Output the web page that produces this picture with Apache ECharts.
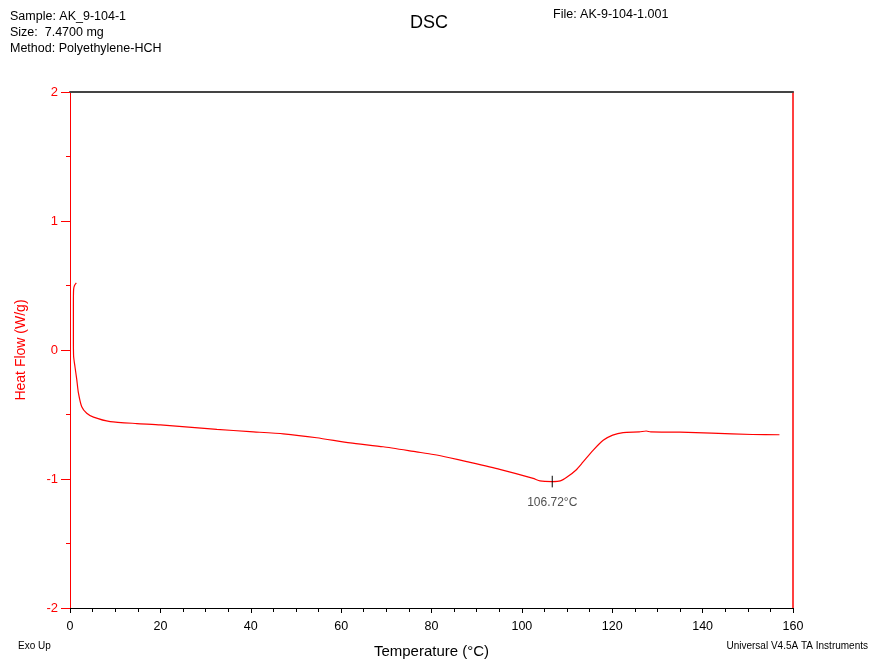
<!DOCTYPE html>
<html><head><meta charset="utf-8">
<script src="https://cdn.jsdelivr.net/npm/echarts@6/dist/echarts.min.js"></script>
<style>html,body{margin:0;padding:0;background:#fff}#c{width:875px;height:659px}</style>
</head><body><div id="c"></div>
<script>
// Temperature (°C)
const temps = [1.4, 1.0, 0.8, 0.75, 0.75, 0.8, 1.1, 1.5, 1.85, 2.6, 3.7, 5.2, 8.9, 14.8, 20, 32.5, 39.8, 47.2, 54.6, 62, 69.3, 76.7, 80.4, 84, 87.8, 95.1, 102.5, 104, 106.72, 108.5, 110, 112, 113.5, 115.7, 118, 120.1, 122.4, 126, 127.5, 128.5, 135, 142, 151, 157];
// Heat Flow (W/g)
const heatFlow = [0.52, 0.50, 0.47, 0.35, 0.1, -0.05, -0.13, -0.23, -0.33, -0.44, -0.49, -0.52, -0.555, -0.57, -0.58, -0.615, -0.633, -0.65, -0.68, -0.72, -0.75, -0.79, -0.81, -0.835, -0.865, -0.925, -0.995, -1.015, -1.02, -1.015, -0.985, -0.93, -0.87, -0.78, -0.70, -0.66, -0.64, -0.635, -0.628, -0.635, -0.637, -0.645, -0.655, -0.657];
const peakTemp = 106.72;
const peakFlow = -1.02;
const peakLabel = '106.72°C';
const xTicks = [0, 20, 40, 60, 80, 100, 120, 140, 160];
const yTicks = [-2, -1, 0, 1, 2];

const FONT = '"Liberation Sans", Arial, sans-serif';
const chart = echarts.init(document.getElementById('c'));
chart.setOption({
  animation: false,
  textStyle: { fontFamily: FONT },
  grid: { left: 70, right: 82, top: 92, bottom: 51, containLabel: false, outerBoundsMode: 'none' },
  graphic: [
    { type: 'text', left: 10, top: 9, style: { text: 'Sample: AK_9-104-1\nSize:  7.4700 mg\nMethod: Polyethylene-HCH', font: '12.5px ' + FONT, fill: '#000', lineHeight: 16 } },
    { type: 'text', left: 410, top: 14, style: { text: 'DSC', font: '18px ' + FONT, fill: '#000' } },
    { type: 'text', left: 553, top: 8, style: { text: 'File: AK-9-104-1.001', font: '12.5px ' + FONT, fill: '#000' } },
    { type: 'text', left: 18, top: 641, style: { text: 'Exo Up', font: '10px ' + FONT, fill: '#000' } },
    { type: 'text', right: 7, top: 641, style: { text: 'Universal V4.5A TA Instruments', font: '10px ' + FONT, fill: '#000' } }
  ],
  xAxis: [{
    type: 'value', min: xTicks[0], max: xTicks[xTicks.length - 1], interval: 20, position: 'bottom',
    name: 'Temperature (°C)', nameLocation: 'middle', nameGap: 36,
    nameTextStyle: { fontSize: 15, color: '#000', fontFamily: FONT },
    axisLine: { show: true, onZero: false, lineStyle: { color: '#000', width: 1 } },
    axisTick: { show: true, length: 5, lineStyle: { color: '#000' } },
    minorTick: { show: true, splitNumber: 4, length: 4, lineStyle: { color: '#000' } },
    axisLabel: { fontSize: 12.5, color: '#000', margin: 12 },
    splitLine: { show: false }
  }, {
    type: 'value', min: 0, max: 160, position: 'top',
    axisLine: { show: true, onZero: false, lineStyle: { color: '#444', width: 2 } },
    axisTick: { show: false }, axisLabel: { show: false }, splitLine: { show: false }
  }],
  yAxis: [{
    type: 'value', min: yTicks[0], max: yTicks[yTicks.length - 1], interval: 1, position: 'left',
    name: 'Heat Flow (W/g)', nameLocation: 'middle', nameGap: 42,
    nameTextStyle: { fontSize: 14, color: '#ff0000', fontFamily: FONT },
    axisLine: { show: true, onZero: false, lineStyle: { color: '#ff0000', width: 1 } },
    axisTick: { show: true, length: 9, lineStyle: { color: '#ff0000' } },
    minorTick: { show: true, splitNumber: 2, length: 4, lineStyle: { color: '#ff0000' } },
    axisLabel: { fontSize: 13, color: '#ff0000', margin: 12 },
    splitLine: { show: false }
  }, {
    type: 'value', min: -2, max: 2, position: 'right',
    axisLine: { show: true, onZero: false, lineStyle: { color: '#ff0000', width: 1.5 } },
    axisTick: { show: false }, axisLabel: { show: false }, splitLine: { show: false }
  }],
  series: [{
    type: 'line', data: temps.map((t, i) => [t, heatFlow[i]]),
    showSymbol: false, smooth: 0.2,
    lineStyle: { color: '#ff0000', width: 1.2 }
  }, {
    type: 'line', data: [[peakTemp, peakFlow + 0.045], [peakTemp, peakFlow - 0.045]],
    showSymbol: false, lineStyle: { color: '#000', width: 1 }
  }, {
    type: 'scatter', data: [[peakTemp, peakFlow]], symbolSize: 0,
    label: { show: true, position: 'bottom', distance: 15, formatter: peakLabel, fontSize: 12, color: '#222', fontFamily: FONT }
  }]
});
</script></body></html>
